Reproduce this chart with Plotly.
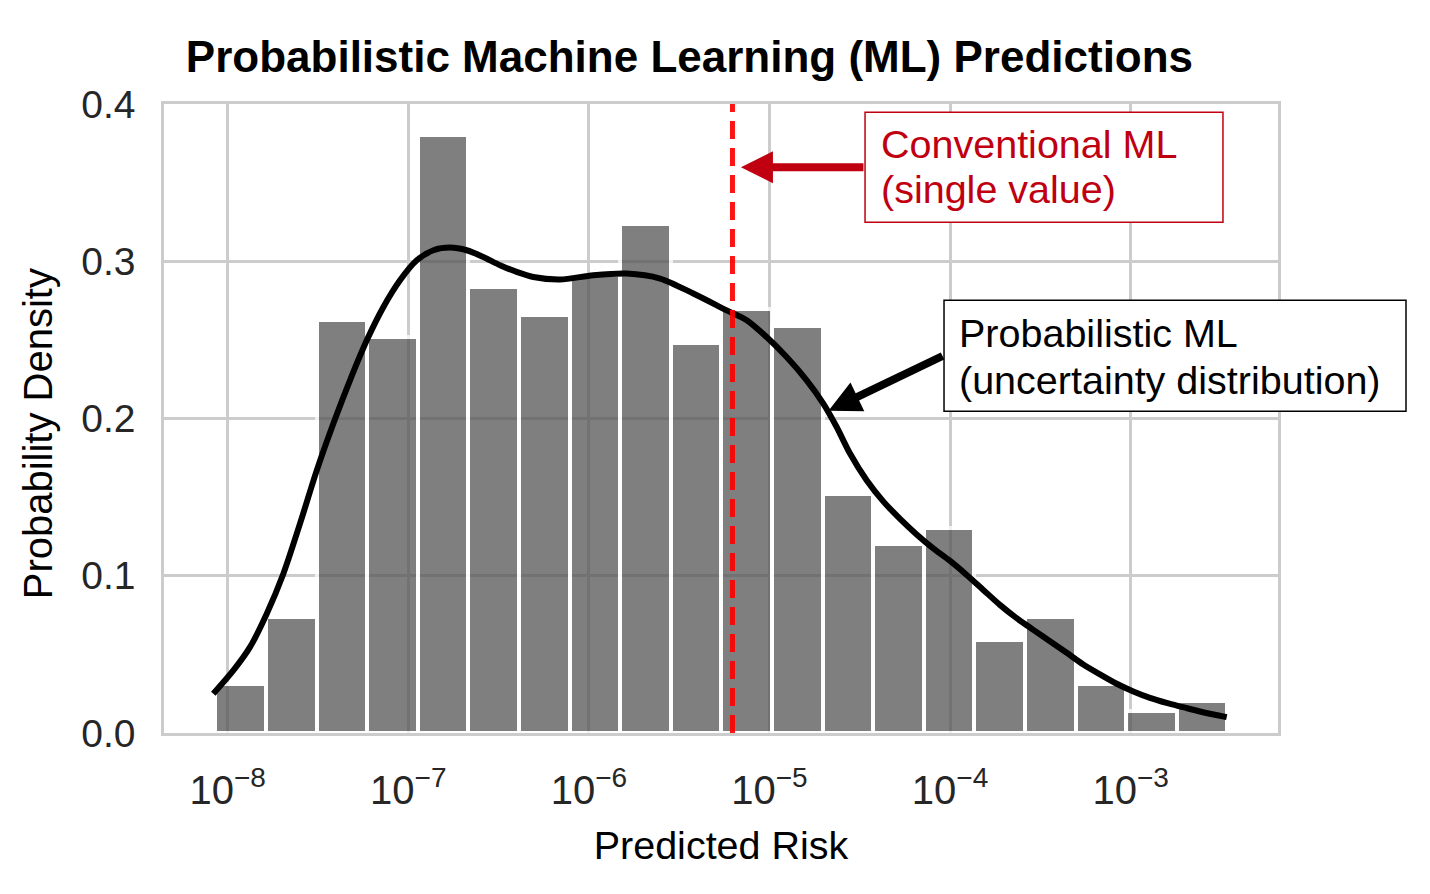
import plotly.graph_objects as go

# ---------------- data ----------------
# histogram bins (log10 of predicted risk) and density heights
bin_edges = [-8.068, -7.788, -7.508, -7.227, -6.947, -6.667, -6.387, -6.107, -5.826, -5.546,
             -5.266, -4.986, -4.706, -4.425, -4.145, -3.865, -3.585, -3.305, -3.024, -2.744, -2.464]
hist_density = [0.0309, 0.0737, 0.2629, 0.2518, 0.3800, 0.2837, 0.2661, 0.2911, 0.3234, 0.2480,
                0.2697, 0.2591, 0.1522, 0.1200, 0.1303, 0.0594, 0.0737, 0.0309, 0.0137, 0.0203]

# KDE curve (log10 risk, density)
kde_log_risk = [-8.080, -7.969, -7.877, -7.784, -7.692, -7.600, -7.507, -7.415, -7.323, -7.230,
                -7.138, -7.046, -6.953, -6.861, -6.769, -6.677, -6.585, -6.492, -6.400, -6.308,
                -6.160, -5.976, -5.791, -5.606, -5.422, -5.237, -5.126, -5.016, -4.905, -4.794,
                -4.702, -4.628, -4.554, -4.462, -4.370, -4.277, -4.185, -4.093, -4.000, -3.908,
                -3.816, -3.724, -3.631, -3.539, -3.447, -3.354, -3.262, -3.170, -3.077, -2.985,
                -2.893, -2.801, -2.709, -2.616, -2.468]
kde_density = [0.0250, 0.0398, 0.0546, 0.0759, 0.1013, 0.1331, 0.1670, 0.1968, 0.2243, 0.2497,
               0.2709, 0.2879, 0.3006, 0.3070, 0.3087, 0.3070, 0.3027, 0.2975, 0.2932, 0.2900,
               0.2884, 0.2911, 0.2922, 0.2890, 0.2795, 0.2688, 0.2625, 0.2518, 0.2391, 0.2243,
               0.2095, 0.1946, 0.1777, 0.1607, 0.1473, 0.1362, 0.1263, 0.1174, 0.1094, 0.1005,
               0.0910, 0.0815, 0.0730, 0.0656, 0.0583, 0.0510, 0.0436, 0.0373, 0.0313, 0.0264,
               0.0223, 0.0191, 0.0164, 0.0137, 0.0101]

conventional_log_risk = -5.205   # single-value prediction (~6.2e-6)

x_tick_vals = [-8, -7, -6, -5, -4, -3]
x_tick_text = ["10<sup>\u22128</sup>", "10<sup>\u22127</sup>", "10<sup>\u22126</sup>",
               "10<sup>\u22125</sup>", "10<sup>\u22124</sup>", "10<sup>\u22123</sup>"]
y_tick_vals = [0.0, 0.1, 0.2, 0.3, 0.4]
y_tick_text = ["0.0", "0.1", "0.2", "0.3", "0.4"]

# ---------------- figure ----------------
FONT = "Liberation Sans, Arial, Helvetica, sans-serif"
TXT = "#262626"
RED_TXT = "#C00010"
GRID = "#cccccc"

bin_centers = [(a + b) / 2 for a, b in zip(bin_edges[:-1], bin_edges[1:])]
bin_widths = [b - a for a, b in zip(bin_edges[:-1], bin_edges[1:])]

fig = go.Figure()
fig.add_trace(go.Bar(
    x=bin_centers, y=hist_density, width=bin_widths,
    marker=dict(color="rgb(85,85,85)", opacity=0.75, line=dict(color="white", width=4)),
    showlegend=False, hoverinfo="skip"))
fig.add_trace(go.Scatter(
    x=kde_log_risk, y=kde_density, mode="lines",
    line=dict(color="black", width=6, shape="spline", smoothing=0.8),
    showlegend=False, hoverinfo="skip"))
fig.add_trace(go.Scatter(
    x=[conventional_log_risk, conventional_log_risk], y=[0.0, 0.4], mode="lines",
    line=dict(color="rgba(255,0,0,0.92)", width=5, dash="18px,9px"),
    showlegend=False, hoverinfo="skip"))

# page body has an 8px margin: figure is 8px smaller and margins shifted accordingly
fig.update_layout(
    width=1422, height=886,
    margin=dict(l=156, r=152, t=96, b=161, pad=0),
    paper_bgcolor="white", plot_bgcolor="white",
    bargap=0,
    font=dict(family=FONT, color=TXT, size=39),
    title=dict(text="<b>Probabilistic Machine Learning (ML) Predictions</b>",
               font=dict(family=FONT, size=44, color="black"),
               x=0.4717, xref="paper", xanchor="center",
               y=1 - 49 / 886, yref="container", yanchor="middle"),
    xaxis=dict(range=[-8.353, -2.184], tickvals=x_tick_vals, ticktext=x_tick_text,
               showgrid=True, gridcolor=GRID, gridwidth=2.5,
               showline=True, linecolor=GRID, linewidth=2.5, mirror=True,
               ticks="", zeroline=False, ticklabelstandoff=20,
               tickfont=dict(family=FONT, size=40, color=TXT),
               title=dict(text="Predicted Risk", font=dict(family=FONT, size=39.5, color="black"),
                          standoff=21)),
    yaxis=dict(range=[0, 0.4], tickvals=y_tick_vals, ticktext=y_tick_text,
               showgrid=True, gridcolor=GRID, gridwidth=2.5,
               showline=True, linecolor=GRID, linewidth=2.5, mirror=True,
               ticks="", zeroline=False, ticklabelstandoff=18,
               tickfont=dict(family=FONT, size=39, color=TXT)),
)

# y-axis title (placed as rotated text, slightly below the axis centre as in the reference)
fig.add_annotation(x=-0.1131, y=0.4749, xref="paper", yref="paper", text="Probability Density",
                   textangle=-90, showarrow=False, xanchor="center", yanchor="middle",
                   font=dict(family=FONT, size=40, color="black"))

# annotation boxes (paper coordinates)
fig.add_shape(type="rect", xref="paper", yref="paper", x0=0.6293, x1=0.9506, y0=0.8120, y1=0.9870,
              fillcolor="white", line=dict(color=RED_TXT, width=1.5), layer="above")
fig.add_shape(type="rect", xref="paper", yref="paper", x0=0.7002, x1=1.1149, y0=0.5115, y1=0.6880,
              fillcolor="white", line=dict(color="black", width=1.5), layer="above")

# arrows
fig.add_annotation(x=-5.158, y=0.3598, xref="x", yref="y", text="", showarrow=True,
                   ax=124, ay=0, axref="pixel", ayref="pixel",
                   arrowhead=2, arrowsize=0.8, arrowwidth=8, arrowcolor=RED_TXT, standoff=0)
fig.add_annotation(x=-4.673, y=0.2049, xref="x", yref="y", text="", showarrow=True,
                   ax=115.5, ay=-55.5, axref="pixel", ayref="pixel",
                   arrowhead=2, arrowsize=0.8, arrowwidth=8, arrowcolor="black", standoff=0)

# annotation texts
for txt, yy, col in [("Conventional ML", 0.9361, RED_TXT), ("(single value)", 0.8645, RED_TXT)]:
    fig.add_annotation(x=0.6418, y=yy, xref="paper", yref="paper", text=txt, showarrow=False,
                       xanchor="left", yanchor="middle", font=dict(family=FONT, size=39.5, color=col))
for txt, yy in [("Probabilistic ML", 0.6355), ("(uncertainty distribution)", 0.5608)]:
    fig.add_annotation(x=0.7118, y=yy, xref="paper", yref="paper", text=txt, showarrow=False,
                       xanchor="left", yanchor="middle", font=dict(family=FONT, size=39.5, color="black"))

fig.write_html("out.html")
